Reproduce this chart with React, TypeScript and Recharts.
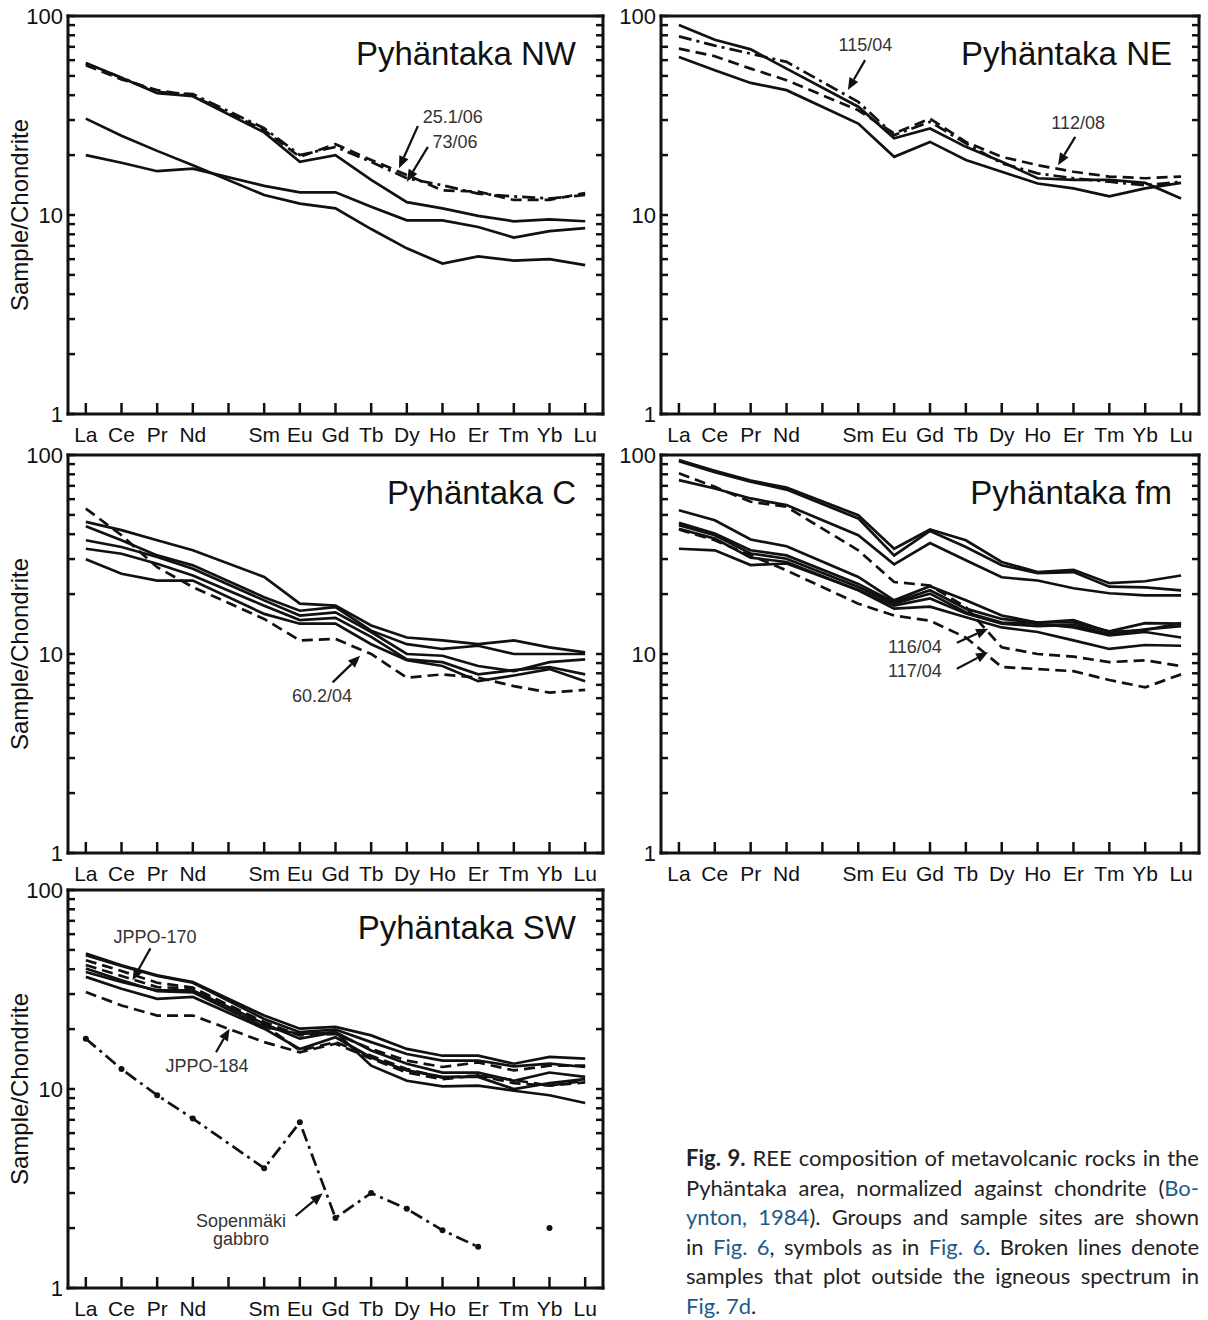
import React from "react";
import { LineChart, Line, XAxis, YAxis, ReferenceLine, ReferenceDot } from "recharts";

// REE order, Pm has a tick but no label
const ELEMENTS = ["La", "Ce", "Pr", "Nd", "Pm", "Sm", "Eu", "Gd", "Tb", "Dy", "Ho", "Er", "Tm", "Yb", "Lu"];
const ELEMENT_LABELS = ELEMENTS.map((e) => (e === "Pm" ? "" : e));
const ELEMENT_TICKS = ELEMENTS.map((_, i) => i);
const Y_LABELLED = [1, 10, 100];
const Y_MINOR_TICKS = [1, 2, 3, 4, 5, 6, 7, 8, 9, 10, 20, 30, 40, 50, 60, 70, 80, 90, 100];

// Pyhäntaka NW
const NW_A = [58, 49, 41, 39.5, null, 26, 18.5, 20, 15, 11.6, 10.8, 9.9, 9.3, 9.5, 9.3];
const NW_B = [30.5, 25, 21, 17.8, null, 12.6, 11.4, 10.8, 8.5, 6.8, 5.7, 6.2, 5.9, 6.0, 5.6];
const NW_C = [20, 18.3, 16.6, 17.1, null, 14.0, 13.0, 13.0, 11.0, 9.4, 9.4, 8.7, 7.7, 8.3, 8.6];
const NW_25_1_06 = [56.6, 48, 42.4, 39.7, null, 26.7, 19.6, 22.7, 18.9, 15.9, 13.3, 13.1, 11.9, 11.9, 12.9];
const NW_73_06 = [57.8, 49, 41.5, 40.5, null, 27.3, 20, 22, 18.5, 15.3, 14.1, 12.8, 12.4, 12.1, 12.6];

// Pyhäntaka NE
const NE_A = [90, 76, 68, 54.4, null, 35, 24.3, 27.2, 22, 18.5, 15.3, 15, 15, 14.5, 12.1];
const NE_115_04 = [79, 71, 64.7, 58.8, null, 37, 25.2, 29.4, 22.9, 18.2, 16.2, 15.3, 14.7, 14.1, 14.7];
const NE_112_08 = [68.6, 62.8, 54.4, 47.6, null, 33.6, 25.7, 30.5, 23.3, 19.6, 17.8, 16.5, 15.6, 15.3, 15.6];
const NE_B = [62.3, 53.4, 46.1, 42.4, null, 28.8, 19.6, 23.3, 18.9, 16.5, 14.4, 13.6, 12.4, 13.6, 14.5];

// Pyhäntaka C
const C_60_2_04 = [53.8, 39.5, 27.3, 21.7, null, 15, 11.7, 11.9, 10, 7.6, 7.9, 7.6, 6.9, 6.4, 6.6];
const C_A = [46.1, 41.9, 37.3, 33.2, null, 24.4, 17.9, 17.5, 13.9, 12.1, 11.7, 11.2, 11.7, 10.8, 10.2];
const C_B = [43.8, 37.3, 31.3, 27.9, null, 19.3, 16.5, 17.2, 13.1, 11.2, 10.6, 11, 10, 10, 10];
const C_C = [37.3, 34.5, 30.7, 26.8, null, 18.6, 15.6, 16.2, 12.9, 10, 9.8, 8.7, 8.2, 9.1, 9.4];
const C_D = [33.8, 31.9, 28.4, 24.8, null, 17.5, 14.8, 15.2, 12.2, 9.4, 9.1, 7.9, 8.3, 8.6, 7.9];
const C_E = [29.9, 25.3, 23.4, 23.4, null, 15.9, 14.2, 14.2, 11.2, 9.3, 8.7, 7.3, 7.8, 8.4, 7.3];

// Pyhäntaka fm
const FM_A = [94.3, 83.4, 74.3, 68.7, null, 49.8, 33.8, 42.2, 37.3, 29, 25.8, 26.5, 22.7, 23.2, 24.8];
const FM_B = [93, 82, 73.5, 67, null, 48, 31.3, 41.5, 34.5, 27.9, 25.5, 25.8, 21.8, 21.6, 20.9];
const FM_C = [74.8, 67.9, 60.5, 56, null, 39.5, 28.2, 36.1, 29.6, 24.3, 23.4, 21.4, 20.2, 19.7, 19.7];
const FM_116_04 = [80.9, 69.2, 58.2, 54.9, null, 33.2, 23, 22.1, 17.2, 10.8, 10, 9.7, 9.1, 9.3, 8.7];
const FM_117_04 = [42.2, 37.3, 31.3, 26.3, null, 17.9, 15.6, 14.7, 12.1, 8.6, 8.4, 8.2, 7.4, 6.8, 7.9];
const FM_E = [52.8, 47, 37.6, 34.8, null, 24.4, 18.6, 21.9, 18.6, 15.6, 14.4, 14.8, 12.9, 13.2, 14.3];
const FM_F = [45.6, 40.3, 33.2, 31.3, null, 22.5, 18.2, 20.9, 16.9, 15, 14.4, 14.4, 13, 14.3, 14.2];
const FM_G = [44.4, 39.5, 32, 30.1, null, 21.7, 17.9, 20.1, 16.2, 14.4, 14.2, 13.6, 12.4, 12.9, 12.1];
const FM_H = [42.6, 38, 30.5, 29, null, 20.9, 16.9, 17.3, 15.3, 13.6, 12.9, 11.7, 10.6, 11.1, 11];
const FM_I = [33.8, 33.2, 28, 28.5, null, 21, 17.5, 19, 16, 14.2, 13.8, 14, 12.6, 13.3, 13.8];

// Pyhäntaka SW
const SW_A = [48, 41.9, 37.3, 34.5, null, 23.4, 20.1, 20.5, 18.6, 15.9, 14.7, 14.7, 13.4, 14.5, 14.2];
const SW_B = [47, 41.5, 37, 34.2, null, 22.5, 19.3, 19.9, 17.2, 15, 13.9, 13.9, 13, 13.4, 12.9];
const SW_D1 = [44.4, 39.2, 34.2, 32.3, null, 21.7, 18.6, 18.9, 15.9, 13.9, 12.9, 13.6, 12.4, 13.1, 13.1];
const SW_C = [38.7, 34.5, 31.3, 31.3, null, 21.3, 17.9, 19.3, 15.6, 13.4, 12.1, 12.1, 11, 12.1, 11.5];
const SW_D = [36.6, 31.9, 28.4, 29, null, 20.1, 15.9, 18.2, 14.4, 12.4, 11.5, 11.5, 10, 10.7, 11.2];
const SW_D2 = [42, 37, 32.5, 32, null, 21, 15.6, 17.2, 14.7, 12.6, 11.4, 11.7, 11.1, 10.4, 11];
const SW_E = [40.3, 35.2, 31, 30.6, null, 20.5, 18.9, 19.3, 13.1, 11, 10.3, 10.4, 9.8, 9.3, 8.5];
const SW_JPPO_184 = [30.7, 26.3, 23.4, 23.4, null, 17.2, 15.3, 16.9, 14.2, 12.1, 11.2, 11.7, 10.7, 10.4, 10.8];
const SW_GABBRO = [17.9, 12.6, 9.3, 7.1, null, 4.0, 6.8, 2.25, 3.0, 2.5, 1.95, 1.61, null, null, null];
const SW_GABBRO_YB = [null, null, null, null, null, null, null, null, null, null, null, null, null, 2.0, null];

const INK = "#111";
const NOTE_INK = "#333";
const FONT = "'Liberation Sans', Arial, sans-serif";
const DASHES: Record<string, string | undefined> = {
  solid: undefined,
  dash: "11 6",
  dashdot: "13 5 3 5",
};
const Y_GAP = 5; // tickSize + tickMargin of the y label axis
const X_GAP = 13; // tickSize + tickMargin of the x label axis

type Series = { name: string; values: (number | null)[]; style: string; dots?: boolean };
type Note = { text: string[]; at: [number, number]; from?: [number, number]; to?: [number, number] };

const toPoints = (values: (number | null)[]) =>
  values.map((v, i) => ({ x: i, y: v })).filter((p) => p.y != null);

const blank = () => "";

// left axis: inward minor tick, plus the label on decades
const YTick = (props: any) => {
  const { x, y, payload } = props;
  const edge = x + Y_GAP;
  const v = payload.value;
  return (
    <g>
      <line x1={edge} y1={y} x2={edge + 7} y2={y} stroke={INK} strokeWidth={2.5} />
      {Y_LABELLED.includes(v) && (
        <text x={x} y={y} dy="0.355em" textAnchor="end" fontFamily={FONT} fontSize={22} fill={INK}>
          {v}
        </text>
      )}
    </g>
  );
};

// bottom axis: inward tick, plus element name
const XTick = (props: any) => {
  const { x, y, payload } = props;
  const edge = y - X_GAP;
  return (
    <g>
      <line x1={x} y1={edge} x2={x} y2={edge - 11} stroke={INK} strokeWidth={2.5} />
      <text x={x} y={y} dy="0.71em" textAnchor="middle" fontFamily={FONT} fontSize={21} fill={INK}>
        {ELEMENT_LABELS[payload.value] ?? ""}
      </text>
    </g>
  );
};

const Arrow = (props: any) => {
  const { x1, y1, x2, y2 } = props;
  const dx = x2 - x1;
  const dy = y2 - y1;
  const len = Math.hypot(dx, dy) || 1;
  const ux = dx / len;
  const uy = dy / len;
  const hl = 12;
  const hw = 5;
  const bx = x2 - ux * hl;
  const by = y2 - uy * hl;
  return (
    <g>
      <line x1={x1} y1={y1} x2={bx} y2={by} stroke={INK} strokeWidth={2.2} />
      <polygon
        points={`${x2},${y2} ${bx - uy * hw},${by + ux * hw} ${bx + uy * hw},${by - ux * hw}`}
        fill={INK}
      />
    </g>
  );
};

const noteText = (lines: string[]) => (props: any) => {
  const { cx, cy } = props;
  const lh = 18;
  const top = cy - ((lines.length - 1) * lh) / 2;
  return (
    <text x={cx} textAnchor="middle" fontFamily={FONT} fontSize={18} fill={NOTE_INK}>
      {lines.map((l, i) => (
        <tspan key={i} x={cx} y={top + i * lh} dominantBaseline="central">
          {l}
        </tspan>
      ))}
    </text>
  );
};

interface PanelProps {
  title: string;
  series: Series[];
  notes: Note[];
  left: number;
  top: number;
  width: number;
  axisWidth: number;
  marginRight: number;
  yTitle?: boolean;
}

function Panel({ title, series, notes, left, top, width, axisWidth, marginRight, yTitle }: PanelProps) {
  const frame = { stroke: INK, strokeWidth: 3, strokeLinecap: "square" as const };
  const tickInk = { stroke: INK, strokeWidth: 2.5 };
  const hiddenLabel = { fontSize: 1, fill: "none" };
  return (
    <div style={{ position: "absolute", left, top }}>
      <LineChart width={width} height={450} margin={{ top: 16, right: marginRight, bottom: 0, left: 0 }}>
        <XAxis
          xAxisId="x"
          type="number"
          dataKey="x"
          domain={[-0.5, 14.5]}
          allowDataOverflow
          ticks={ELEMENT_TICKS}
          interval={0}
          height={36}
          tickLine={false}
          tickSize={6}
          tickMargin={7}
          axisLine={frame}
          tick={<XTick />}
        />
        <XAxis
          xAxisId="xtop"
          orientation="top"
          type="number"
          domain={[-0.5, 14.5]}
          allowDataOverflow
          ticks={[-0.5, 14.5]}
          mirror
          height={1}
          tick={false}
          tickLine={false}
          axisLine={frame}
          label={{
            content: (p: any) => (
              <text
                x={p.viewBox.x + p.viewBox.width - 27}
                y={p.viewBox.y + 49}
                textAnchor="end"
                fontFamily={FONT}
                fontSize={33}
                fill={INK}
              >
                {title}
              </text>
            ),
          }}
        />
        <YAxis
          yAxisId="y"
          scale="log"
          type="number"
          domain={[1, 100]}
          allowDataOverflow
          ticks={Y_MINOR_TICKS}
          interval={0}
          width={axisWidth}
          tickLine={false}
          tickSize={3}
          tickMargin={2}
          axisLine={frame}
          tick={<YTick />}
          label={
            yTitle
              ? {
                  content: (p: any) => (
                    <text
                      transform={`translate(${p.viewBox.x + 19}, ${p.viewBox.y + p.viewBox.height / 2}) rotate(-90)`}
                      textAnchor="middle"
                      dominantBaseline="central"
                      fontFamily={FONT}
                      fontSize={24}
                      fill={INK}
                    >
                      Sample/Chondrite
                    </text>
                  ),
                }
              : undefined
          }
        />
        <YAxis
          yAxisId="yr"
          orientation="right"
          scale="log"
          type="number"
          domain={[1, 100]}
          allowDataOverflow
          ticks={Y_MINOR_TICKS}
          interval={0}
          mirror
          width={1}
          tick={hiddenLabel}
          tickFormatter={blank}
          tickSize={7}
          tickLine={tickInk}
          axisLine={frame}
        />
        {series.map((s) => (
          <Line
            key={s.name}
            name={s.name}
            data={toPoints(s.values)}
            dataKey="y"
            xAxisId="x"
            yAxisId="y"
            type="linear"
            stroke={INK}
            strokeWidth={2.7}
            strokeDasharray={DASHES[s.style]}
            dot={s.dots ? { r: 3, fill: INK, stroke: "none" } : false}
            activeDot={false}
            isAnimationActive={false}
          />
        ))}
        {notes.map((n, i) =>
          n.from && n.to ? (
            <ReferenceLine
              key={`a${i}`}
              xAxisId="x"
              yAxisId="y"
              segment={[
                { x: n.from[0], y: n.from[1] },
                { x: n.to[0], y: n.to[1] },
              ]}
              shape={Arrow}
            />
          ) : null
        )}
        {notes.map((n, i) => (
          <ReferenceDot
            key={`t${i}`}
            xAxisId="x"
            yAxisId="y"
            x={n.at[0]}
            y={n.at[1]}
            r={0}
            shape={noteText(n.text)}
          />
        ))}
      </LineChart>
    </div>
  );
}

const NW_SERIES: Series[] = [
  { name: "nw-a", values: NW_A, style: "solid" },
  { name: "nw-b", values: NW_B, style: "solid" },
  { name: "nw-c", values: NW_C, style: "solid" },
  { name: "25.1/06", values: NW_25_1_06, style: "dash" },
  { name: "73/06", values: NW_73_06, style: "dashdot" },
];
const NE_SERIES: Series[] = [
  { name: "ne-a", values: NE_A, style: "solid" },
  { name: "115/04", values: NE_115_04, style: "dashdot" },
  { name: "112/08", values: NE_112_08, style: "dash" },
  { name: "ne-b", values: NE_B, style: "solid" },
];
const C_SERIES: Series[] = [
  { name: "60.2/04", values: C_60_2_04, style: "dash" },
  { name: "c-a", values: C_A, style: "solid" },
  { name: "c-b", values: C_B, style: "solid" },
  { name: "c-c", values: C_C, style: "solid" },
  { name: "c-d", values: C_D, style: "solid" },
  { name: "c-e", values: C_E, style: "solid" },
];
const FM_SERIES: Series[] = [
  { name: "fm-a", values: FM_A, style: "solid" },
  { name: "fm-b", values: FM_B, style: "solid" },
  { name: "fm-c", values: FM_C, style: "solid" },
  { name: "116/04", values: FM_116_04, style: "dash" },
  { name: "117/04", values: FM_117_04, style: "dash" },
  { name: "fm-e", values: FM_E, style: "solid" },
  { name: "fm-f", values: FM_F, style: "solid" },
  { name: "fm-g", values: FM_G, style: "solid" },
  { name: "fm-h", values: FM_H, style: "solid" },
  { name: "fm-i", values: FM_I, style: "solid" },
];
const SW_SERIES: Series[] = [
  { name: "JPPO-170", values: SW_A, style: "solid" },
  { name: "sw-b", values: SW_B, style: "solid" },
  { name: "sw-d1", values: SW_D1, style: "dash" },
  { name: "sw-c", values: SW_C, style: "solid" },
  { name: "sw-d", values: SW_D, style: "solid" },
  { name: "sw-d2", values: SW_D2, style: "dash" },
  { name: "sw-e", values: SW_E, style: "solid" },
  { name: "JPPO-184", values: SW_JPPO_184, style: "dash" },
  { name: "Sopenmäki gabbro", values: SW_GABBRO, style: "dashdot", dots: true },
  { name: "Sopenmäki gabbro Yb", values: SW_GABBRO_YB, style: "dashdot", dots: true },
];

const NW_NOTES: Note[] = [
  { text: ["25.1/06"], at: [10.29, 31], from: [9.31, 28], to: [8.78, 17.2] },
  { text: ["73/06"], at: [10.35, 23.3], from: [9.59, 22], to: [9.0, 14.7] },
];
const NE_NOTES: Note[] = [
  { text: ["115/04"], at: [5.2, 71.5], from: [5.19, 60], to: [4.71, 42.5] },
  { text: ["112/08"], at: [11.13, 29], from: [11.05, 24.7], to: [10.57, 17.8] },
];
const C_NOTES: Note[] = [{ text: ["60.2/04"], at: [6.62, 6.17], from: [6.92, 7.2], to: [7.69, 9.8] }];
const FM_NOTES: Note[] = [
  { text: ["116/04"], at: [6.58, 10.9], from: [7.75, 11.4], to: [8.62, 13.4] },
  { text: ["117/04"], at: [6.58, 8.25], from: [7.75, 8.44], to: [8.62, 10.2] },
];
const SW_NOTES: Note[] = [
  { text: ["JPPO-170"], at: [1.94, 58], from: [1.81, 50.9], to: [1.31, 35.2] },
  { text: ["JPPO-184"], at: [3.4, 13], from: [3.65, 15.3], to: [4.03, 20.1] },
  { text: ["Sopenmäki", "gabbro"], at: [4.35, 1.95], from: [5.88, 2.3], to: [6.64, 2.99] },
];

const LINK = "#1d5a8a";

function Caption() {
  const line: React.CSSProperties = { textAlign: "justify", textAlignLast: "justify" };
  return (
    <div
      style={{
        position: "absolute",
        left: 686,
        top: 1143,
        width: 513,
        fontFamily: "Lato, 'Open Sans', sans-serif",
        fontSize: 22,
        lineHeight: "29.6px",
        color: "#222",
      }}
    >
      <div style={line}>
        <b>Fig. 9.</b> REE composition of metavolcanic rocks in the
      </div>
      <div style={line}>
        Pyhäntaka area, normalized against chondrite (<span style={{ color: LINK }}>Bo-</span>
      </div>
      <div style={line}>
        <span style={{ color: LINK }}>ynton, 1984</span>). Groups and sample sites are shown
      </div>
      <div style={line}>
        in <span style={{ color: LINK }}>Fig. 6</span>, symbols as in <span style={{ color: LINK }}>Fig. 6</span>. Broken lines denote
      </div>
      <div style={line}>samples that plot outside the igneous spectrum in</div>
      <div>
        <span style={{ color: LINK }}>Fig. 7d</span>.
      </div>
    </div>
  );
}

export default function App() {
  return (
    <div style={{ position: "absolute", left: 0, top: 0, width: 1208, height: 1320, background: "#fff" }}>
      <Panel title="Pyhäntaka NW" series={NW_SERIES} notes={NW_NOTES} left={0} top={0} width={610} axisWidth={68} marginRight={7} yTitle />
      <Panel title="Pyhäntaka NE" series={NE_SERIES} notes={NE_NOTES} left={600} top={0} width={608} axisWidth={61} marginRight={9} />
      <Panel title="Pyhäntaka C" series={C_SERIES} notes={C_NOTES} left={0} top={439} width={610} axisWidth={68} marginRight={7} yTitle />
      <Panel title="Pyhäntaka fm" series={FM_SERIES} notes={FM_NOTES} left={600} top={439} width={608} axisWidth={61} marginRight={9} />
      <Panel title="Pyhäntaka SW" series={SW_SERIES} notes={SW_NOTES} left={0} top={874} width={610} axisWidth={68} marginRight={7} yTitle />
      <Caption />
    </div>
  );
}
